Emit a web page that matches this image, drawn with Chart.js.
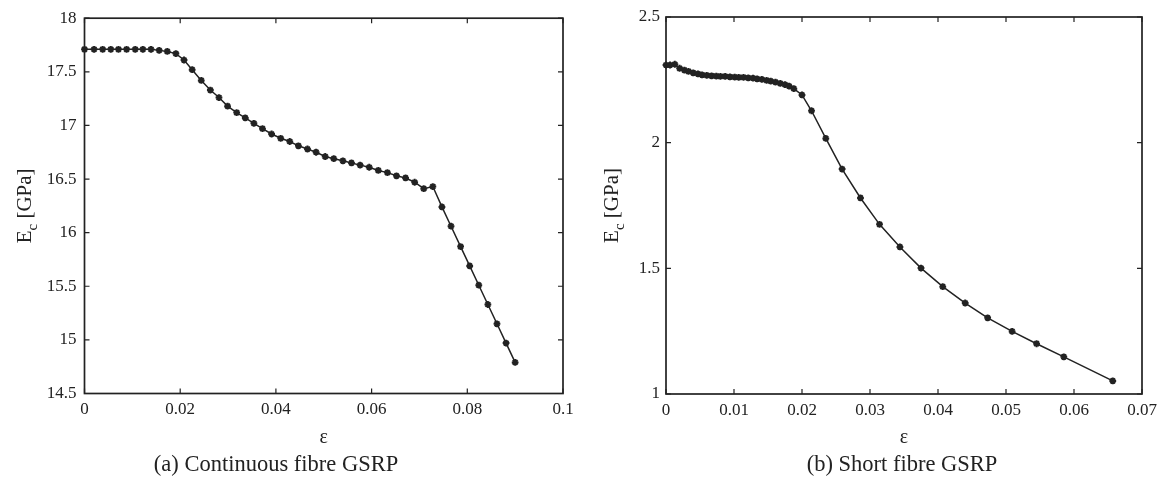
<!DOCTYPE html>
<html>
<head>
<meta charset="utf-8">
<title>Ec vs strain</title>
<script src="https://cdn.jsdelivr.net/npm/chart.js@4.4.1/dist/chart.umd.min.js"></script>
<style>
  html, body { margin: 0; padding: 0; background: #fff; }
  #wrap { position: relative; width: 1165px; height: 489px; overflow: hidden; }
  canvas { position: absolute; top: 0; }
  #leftChart  { left: 0; }
  #rightChart { left: 585px; }
  .caption {
    position: absolute; top: 451px;
    font-family: 'Liberation Serif', serif; font-size: 22.5px; color: #222;
    transform: translateX(-50%); white-space: nowrap;
  }
</style>
</head>
<body>
<div id="wrap">
  <canvas id="leftChart" width="600" height="489"></canvas>
  <canvas id="rightChart" width="580" height="489"></canvas>
  <div class="caption" style="left:276px">(a) Continuous fibre GSRP</div>
  <div class="caption" style="left:902px">(b) Short fibre GSRP</div>
</div>
<script>
// ---- (a) continuous fibre ----
const leftStrain = [
  0, 0.0020, 0.0038, 0.0055, 0.0071, 0.0088, 0.0106, 0.0122, 0.0139, 0.0156,
  0.0173, 0.0191, 0.0208, 0.0225, 0.0244, 0.0263, 0.0281, 0.0299, 0.0318, 0.0336,
  0.0354, 0.0372, 0.0391, 0.0410, 0.0429, 0.0447, 0.0466, 0.0484, 0.0503, 0.0521,
  0.0540, 0.0558, 0.0576, 0.0595, 0.0614, 0.0633, 0.0652, 0.0671, 0.0690, 0.0709,
  0.0728, 0.0747, 0.0766, 0.0786, 0.0805, 0.0824, 0.0843, 0.0862, 0.0881, 0.0900
];
const leftModulus = [
  17.71, 17.71, 17.71, 17.71, 17.71, 17.71, 17.71, 17.71, 17.71, 17.70,
  17.69, 17.67, 17.61, 17.52, 17.42, 17.33, 17.26, 17.18, 17.12, 17.07,
  17.02, 16.97, 16.92, 16.88, 16.85, 16.81, 16.78, 16.75, 16.71, 16.69,
  16.67, 16.65, 16.63, 16.61, 16.58, 16.56, 16.53, 16.51, 16.47, 16.41,
  16.43, 16.24, 16.06, 15.87, 15.69, 15.51, 15.33, 15.15, 14.97, 14.79
];
const leftXTicks = [0, 0.02, 0.04, 0.06, 0.08, 0.1];
const leftYTicks = [14.5, 15, 15.5, 16, 16.5, 17, 17.5, 18];

// ---- (b) short fibre ----
const rightStrain = [
  0, 0.0006, 0.0013, 0.0020, 0.0027, 0.0033, 0.0040, 0.0047, 0.0053, 0.0060,
  0.0067, 0.0074, 0.0080, 0.0087, 0.0094, 0.0101, 0.0107, 0.0114, 0.0121, 0.0128,
  0.0134, 0.0141, 0.0148, 0.0154, 0.0161, 0.0168, 0.0175, 0.0181, 0.0188,
  0.0200, 0.0214, 0.0235, 0.0259, 0.0286, 0.0314, 0.0344, 0.0375, 0.0407, 0.0440,
  0.0473, 0.0509, 0.0545, 0.0585, 0.0657
];
const rightModulus = [
  2.309, 2.309, 2.312, 2.296, 2.289, 2.284, 2.278, 2.274, 2.270, 2.268,
  2.266, 2.265, 2.264, 2.264, 2.262, 2.261, 2.260, 2.260, 2.258, 2.257,
  2.254, 2.252, 2.248, 2.245, 2.241, 2.236, 2.231, 2.225, 2.215,
  2.190, 2.127, 2.017, 1.895, 1.780, 1.675, 1.585, 1.501, 1.427, 1.362,
  1.303, 1.249, 1.200, 1.148, 1.052
];
const rightXTicks = [0, 0.01, 0.02, 0.03, 0.04, 0.05, 0.06, 0.07];
const rightYTicks = [1, 1.5, 2, 2.5];

const INK = '#222';
const SERIF = "'Liberation Serif', 'Times New Roman', serif";

// box round the plot, MATLAB style inward ticks, axis titles
const framePlugin = {
  id: 'frame',
  afterDraw(chart) {
    const { ctx, chartArea: a, scales: { x, y } } = chart;
    const opts = chart.options.plugins.frame;
    ctx.save();
    ctx.strokeStyle = INK;
    ctx.lineWidth = 1.7;
    ctx.strokeRect(a.left, a.top, a.right - a.left, a.bottom - a.top);

    const len = 5;
    ctx.lineWidth = 1.2;
    ctx.beginPath();
    x.ticks.forEach(t => {
      const px = x.getPixelForValue(t.value);
      ctx.moveTo(px, a.bottom); ctx.lineTo(px, a.bottom - len);
      ctx.moveTo(px, a.top);    ctx.lineTo(px, a.top + len);
    });
    y.ticks.forEach(t => {
      const py = y.getPixelForValue(t.value);
      ctx.moveTo(a.left, py);  ctx.lineTo(a.left + len, py);
      ctx.moveTo(a.right, py); ctx.lineTo(a.right - len, py);
    });
    ctx.stroke();

    ctx.fillStyle = INK;
    // x title
    ctx.font = '20px ' + SERIF;
    ctx.textAlign = 'center';
    ctx.textBaseline = 'alphabetic';
    ctx.fillText('ε', (a.left + a.right) / 2, 443);

    // y title E_c [GPa], rotated
    const big = '21px ' + SERIF, small = '15px ' + SERIF;
    ctx.font = big;
    const wE = ctx.measureText('E').width;
    const wRest = ctx.measureText(' [GPa]').width;
    ctx.font = small;
    const wc = ctx.measureText('c').width;
    const total = wE + wc + wRest;
    ctx.translate(opts.titleX, (a.top + a.bottom) / 2);
    ctx.rotate(-Math.PI / 2);
    ctx.textAlign = 'left';
    let cx = -total / 2;
    ctx.font = big;
    ctx.fillText('E', cx, 0); cx += wE;
    ctx.font = small;
    ctx.fillText('c', cx, 6); cx += wc;
    ctx.font = big;
    ctx.fillText(' [GPa]', cx, 0);
    ctx.restore();
  }
};

function makeChart(id, strain, modulus, xTicks, yTicks, box) {
  return new Chart(document.getElementById(id), {
    type: 'line',
    data: {
      datasets: [{
        data: strain.map((s, i) => ({ x: s, y: modulus[i] })),
        borderColor: INK,
        borderWidth: 1.5,
        backgroundColor: INK,
        pointStyle: 'star',
        pointRadius: 3.4,
        pointBorderWidth: 2,
        pointBorderColor: INK,
        tension: 0,
        clip: false
      }]
    },
    options: {
      responsive: false,
      animation: false,
      layout: { padding: { left: 0, right: box.padRight, top: 17, bottom: 0 } },
      plugins: {
        legend: { display: false },
        tooltip: { enabled: false },
        frame: { titleX: box.titleX }
      },
      scales: {
        x: {
          type: 'linear',
          min: xTicks[0], max: xTicks[xTicks.length - 1],
          afterBuildTicks: s => { s.ticks = xTicks.map(v => ({ value: v })); },
          afterFit: s => { s.height = box.xHeight; },
          grid: { display: false, drawTicks: false },
          border: { display: false },
          ticks: {
            autoSkip: false, maxRotation: 0, padding: 6,
            color: INK, font: { family: SERIF, size: 17 },
            callback: v => String(v)
          }
        },
        y: {
          type: 'linear',
          min: yTicks[0], max: yTicks[yTicks.length - 1],
          afterBuildTicks: s => { s.ticks = yTicks.map(v => ({ value: v })); },
          afterFit: s => { s.width = box.yWidth; },
          grid: { display: false, drawTicks: false },
          border: { display: false },
          ticks: {
            autoSkip: false, padding: box.yPad,
            color: INK, font: { family: SERIF, size: 17 },
            callback: v => String(v)
          }
        }
      }
    },
    plugins: [framePlugin]
  });
}

makeChart('leftChart', leftStrain, leftModulus, leftXTicks, leftYTicks,
  { yWidth: 84.5, padRight: 37, xHeight: 95.5, titleX: 31, yPad: 8 });
makeChart('rightChart', rightStrain, rightModulus, rightXTicks, rightYTicks,
  { yWidth: 81, padRight: 23, xHeight: 95, titleX: 33, yPad: 6 });
</script>
</body>
</html>
